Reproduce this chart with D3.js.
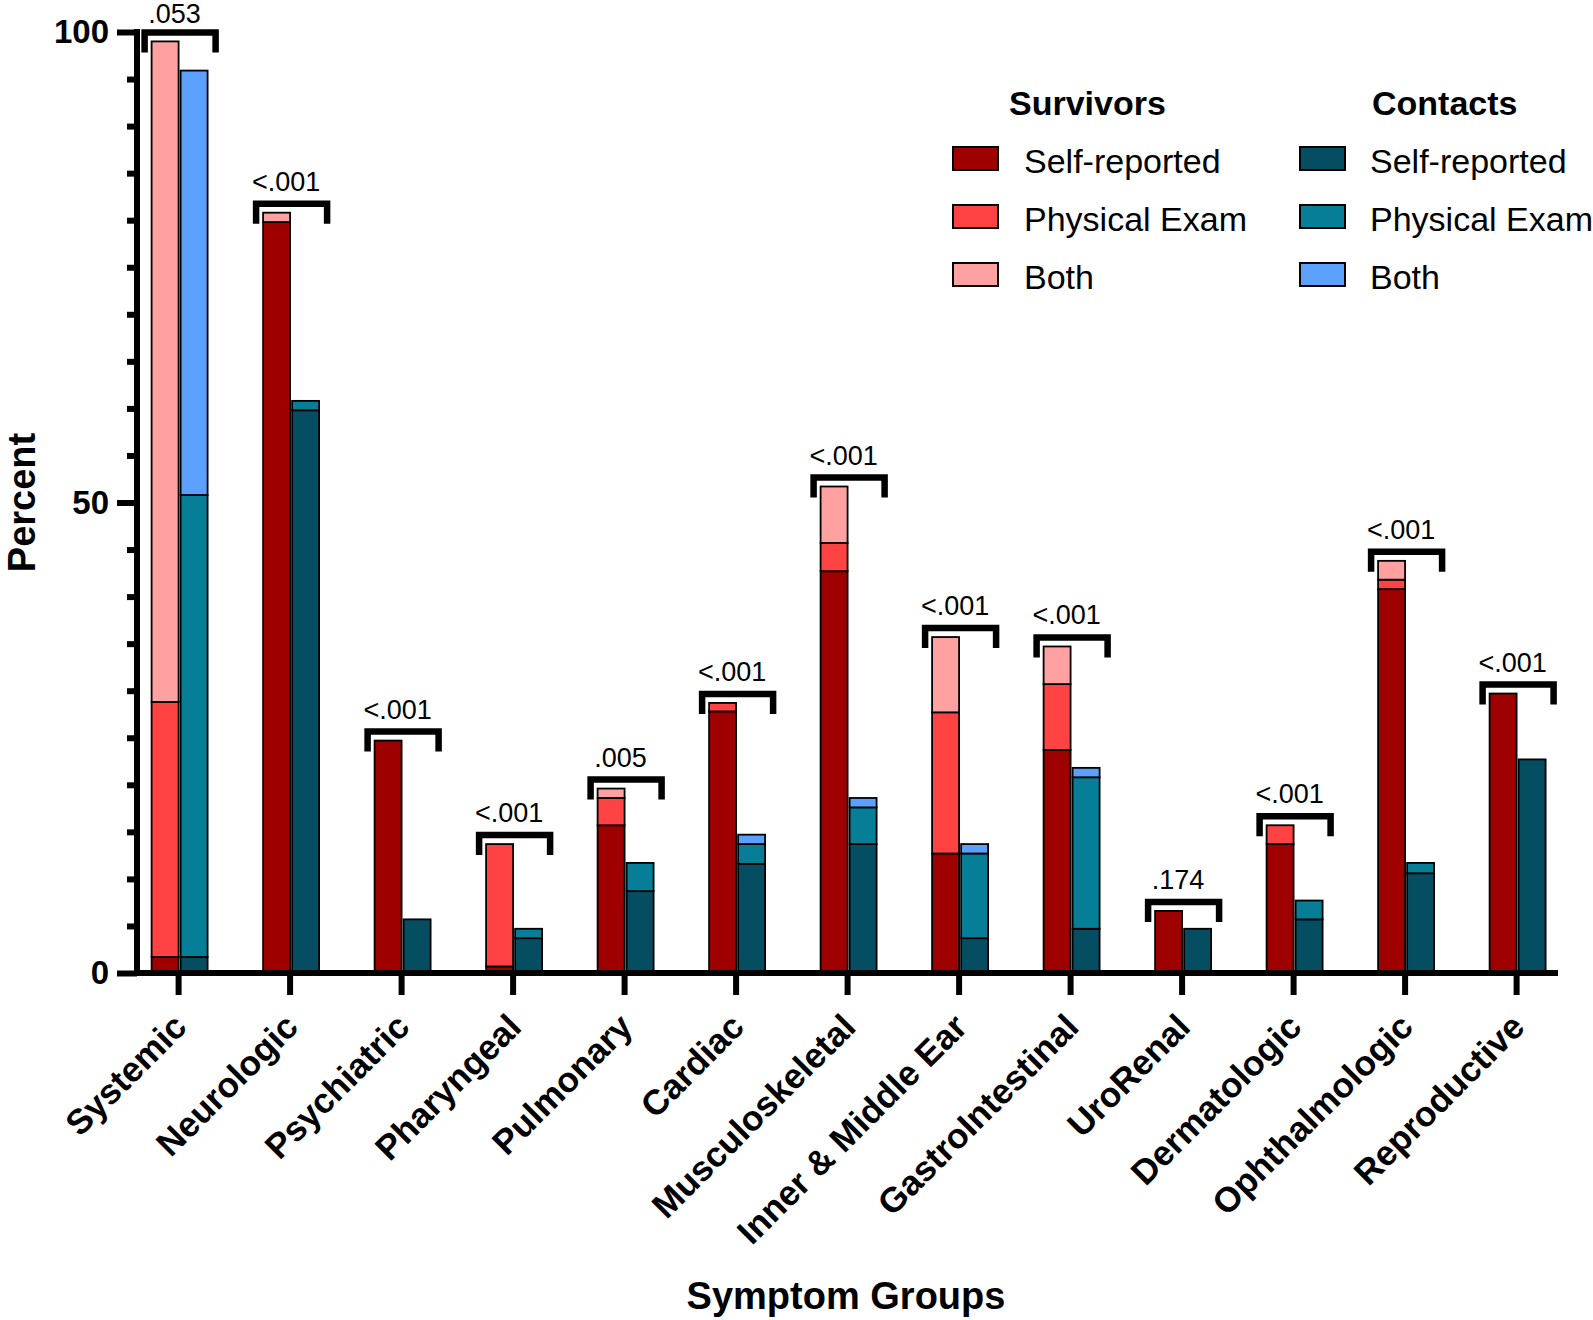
<!DOCTYPE html>
<html>
<head>
<meta charset="utf-8">
<script src="https://cdn.jsdelivr.net/npm/d3@7"></script>
<style>
  html, body { margin: 0; padding: 0; background: #fff; }
  svg { display: block; font-family: "Liberation Sans", Arial, sans-serif; }
</style>
</head>
<body>
<svg id="chart" width="1593" height="1320"></svg>
<script>
// ---------------- data ----------------
const categories = ["Systemic","Neurologic","Psychiatric","Pharyngeal","Pulmonary","Cardiac",
  "Musculoskeletal","Inner & Middle Ear","GastroIntestinal","UroRenal","Dermatologic",
  "Ophthalmologic","Reproductive"];

const survivorSelf = [1.7, 79.8, 24.7, 0.7, 15.7, 27.8, 42.7, 12.7, 23.7, 6.6, 13.7, 40.8, 29.7];
const survivorExam = [27.1, 0, 0, 13.0, 2.9, 0.9, 3.0, 15.0, 7.0, 0, 2.0, 1.0, 0];
const survivorBoth = [70.2, 1.0, 0, 0, 1.0, 0, 6.0, 8.0, 4.0, 0, 0, 2.0, 0];

const contactSelf = [1.7, 59.8, 5.7, 3.7, 8.7, 11.6, 13.7, 3.7, 4.7, 4.7, 5.7, 10.6, 22.7];
const contactExam = [49.1, 1.0, 0, 1.0, 3.0, 2.1, 3.9, 9.0, 16.1, 0, 2.0, 1.1, 0];
const contactBoth = [45.1, 0, 0, 0, 0, 1.0, 1.0, 1.0, 1.0, 0, 0, 0, 0];

const pValues = [".053","<.001","<.001","<.001",".005","<.001","<.001","<.001","<.001",".174","<.001","<.001","<.001"];

const groups = ["Survivors","Contacts"];
const sources = ["Self-reported","Physical Exam","Both"];
const yMajorTicks = [0, 50, 100];

const colors = {
  Survivors: ["#9e0000", "#ff4242", "#ffa1a1"],
  Contacts:  ["#054e62", "#077e97", "#5aa0fc"]
};

// ---------------- layout ----------------
const svg = d3.select("#chart");
const y = d3.scaleLinear().domain([0, 100]).range([973, 32]);
const step = 111.5;
const firstCenter = 178.6;
const x = d3.scaleBand().domain(categories)
  .range([firstCenter - step / 2, firstCenter - step / 2 + step * categories.length]).padding(0);
const xs = d3.scaleBand().domain(groups).range([-27, 29]).paddingInner(0.07);
const cx = c => x(c) + x.bandwidth() / 2;

const rows = categories.map((c, i) => ({
  cat: c,
  Survivors: [survivorSelf[i], survivorExam[i], survivorBoth[i]],
  Contacts: [contactSelf[i], contactExam[i], contactBoth[i]]
}));

// bars
const stackFor = g => d3.stack().keys([0, 1, 2]).value((d, k) => d[g][k])(rows);
groups.forEach(g => {
  const st = stackFor(g);
  st.forEach((layer, k) => {
    svg.append("g").selectAll("rect").data(layer).join("rect")
      .attr("x", d => cx(d.data.cat) + xs(g))
      .attr("width", xs.bandwidth())
      .attr("y", d => y(d[1]))
      .attr("height", d => Math.max(0, y(d[0]) - y(d[1])))
      .attr("fill", colors[g][k])
      .attr("stroke", "#000")
      .attr("stroke-width", 1.8)
      .style("display", d => (d[1] - d[0]) > 0 ? null : "none");
  });
});

// brackets and p-values
const totals = rows.map(r => Math.max(d3.sum(r.Survivors), d3.sum(r.Contacts)));
const br = svg.append("g");
rows.forEach((r, i) => {
  const c = cx(r.cat);
  const by = y(totals[i]) - 9;
  br.append("path")
    .attr("d", `M${c - 34},${by + 20}V${by}H${c + 37}V${by + 20}`)
    .attr("fill", "none").attr("stroke", "#000").attr("stroke-width", 6.5);
  br.append("text")
    .attr("x", c - 4).attr("y", Math.max(by - 13, 23))
    .attr("text-anchor", "middle")
    .attr("font-size", 27)
    .text(pValues[i]);
});

// y axis
const yAxis = svg.append("g").attr("transform", "translate(137,0)")
  .call(d3.axisLeft(y).tickValues(yMajorTicks).tickSize(20).tickSizeOuter(0).tickFormat(d3.format("d")));
yAxis.select(".domain").attr("stroke-width", 6).attr("d", `M0,${y(100) - 3}V${y(0)}`);
yAxis.selectAll(".tick line").attr("stroke-width", 6);
yAxis.selectAll(".tick text").attr("font-size", 33).attr("font-weight", "bold")
  .attr("font-family", "Liberation Sans, Arial, sans-serif").attr("x", -28).attr("fill", "#000");
const minor = d3.range(5, 100, 5).filter(v => v % 50 !== 0);
const yMinor = svg.append("g").attr("transform", "translate(137,0)")
  .call(d3.axisLeft(y).tickValues(minor).tickSize(10).tickFormat(""));
yMinor.select(".domain").remove();
yMinor.selectAll(".tick line").attr("stroke-width", 6);

// x axis
const xAxis = svg.append("g").attr("transform", `translate(0,${y(0)})`)
  .call(d3.axisBottom(x).tickSize(22).tickSizeOuter(0).tickFormat(""));
xAxis.select(".domain").attr("stroke-width", 6).attr("d", "M134,0H1558");
xAxis.selectAll(".tick line").attr("stroke-width", 6);
svg.append("g").selectAll("text").data(categories).join("text")
  .attr("transform", c => `translate(${cx(c) + 10},${1029}) rotate(-45)`)
  .attr("text-anchor", "end")
  .attr("font-size", 35).attr("font-weight", "bold")
  .text(c => c);

// axis titles
svg.append("text")
  .attr("transform", `translate(35,${y(50)}) rotate(-90)`)
  .attr("text-anchor", "middle").attr("font-size", 38).attr("font-weight", "bold")
  .text("Percent");
svg.append("text")
  .attr("x", 846).attr("y", 1309)
  .attr("text-anchor", "middle").attr("font-size", 38).attr("font-weight", "bold")
  .text("Symptom Groups");

// legend
const legendCols = [{ g: "Survivors", tx: 1009, sx: 953, lx: 1024 }, { g: "Contacts", tx: 1372, sx: 1300, lx: 1370 }];
const lg = svg.append("g");
legendCols.forEach(col => {
  lg.append("text").attr("x", col.tx).attr("y", 115)
    .attr("font-size", 34).attr("font-weight", "bold").text(col.g);
  sources.forEach((s, k) => {
    const base = 173 + k * 58;
    lg.append("rect").attr("x", col.sx).attr("y", base - 26).attr("width", 45).attr("height", 23)
      .attr("fill", colors[col.g][k]).attr("stroke", "#000").attr("stroke-width", 2);
    lg.append("text").attr("x", col.lx).attr("y", base)
      .attr("font-size", 34).text(s);
  });
});
</script>
</body>
</html>
